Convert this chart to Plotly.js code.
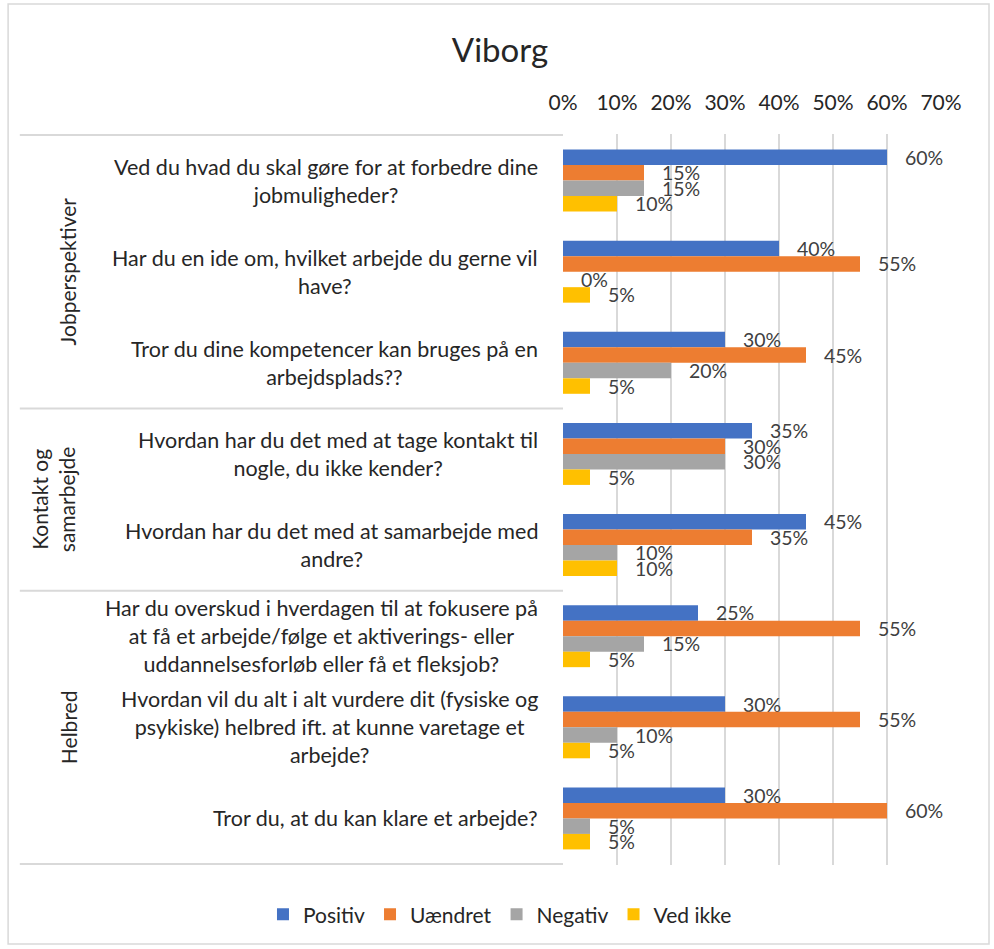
<!DOCTYPE html>
<html>
<head>
<meta charset="utf-8">
<script src="https://cdn.plot.ly/plotly-3.0.1.min.js"></script>
<style>html,body{margin:0;padding:0;background:#fff;}#chart{width:994px;height:949px;}</style>
</head>
<body>
<div id="chart"></div>
<script>
const questions = [
  "Ved du hvad du skal gøre for at forbedre dine<br>jobmuligheder?",
  "Har du en ide om, hvilket arbejde du gerne vil<br>have?",
  "Tror du dine kompetencer kan bruges på en<br>arbejdsplads??",
  "Hvordan har du det med at tage kontakt til<br>nogle, du ikke kender?",
  "Hvordan har du det med at samarbejde med<br>andre?",
  "Har du overskud i hverdagen til at fokusere på<br>at få et arbejde/følge et aktiverings- eller<br>uddannelsesforløb eller få et fleksjob?",
  "Hvordan vil du alt i alt vurdere dit (fysiske og<br>psykiske) helbred ift. at kunne varetage et<br>arbejde?",
  "Tror du, at du kan klare et arbejde?"
];
const groups = ["Jobperspektiver", "Kontakt og<br>samarbejde", "Helbred"];
const groupSizes = [3, 2, 3];
const seriesNames = ["Positiv", "Uændret", "Negativ", "Ved ikke"];
const positiv = [0.60, 0.40, 0.30, 0.35, 0.45, 0.25, 0.30, 0.30];
const uaendret = [0.15, 0.55, 0.45, 0.30, 0.35, 0.55, 0.55, 0.60];
const negativ = [0.15, 0.00, 0.20, 0.30, 0.10, 0.15, 0.10, 0.05];
const vedIkke = [0.10, 0.05, 0.05, 0.05, 0.10, 0.05, 0.05, 0.05];
const xTicks = [0, 0.1, 0.2, 0.3, 0.4, 0.5, 0.6, 0.7];

const colors = ["#4472C4", "#ED7D31", "#A5A5A5", "#FFC000"];
const FONT = "Lato, 'Liberation Sans', sans-serif";
const TXT = "#262626";
const allSeries = [positiv, uaendret, negativ, vedIkke];

const traces = allSeries.map((vals, i) => ({
  type: "bar",
  orientation: "h",
  name: seriesNames[i],
  y: questions,
  x: vals,
  marker: {color: colors[i]},
  text: vals.map(v => "\u00a0\u00a0\u00a0" + Math.round(v * 100) + "%"),
  textposition: "outside",
  constraintext: "none",
  cliponaxis: false,
  textfont: {family: FONT, size: 19.5, color: "#404040"},
  hoverinfo: "x+y"
}));

const annotations = [];
questions.forEach(q => {
  annotations.push({
    xref: "paper", yref: "y", x: -0.06, y: q,
    xanchor: "right", yanchor: "middle", align: "center",
    text: q, showarrow: false,
    font: {family: FONT, size: 21.5, color: TXT}
  });
});
let start = 0;
const sepShapes = [];
const lineStyle = {color: "#d9d9d9", width: 2};
sepShapes.push({type: "line", xref: "paper", yref: "y", x0: -1.437, x1: 0, y0: -0.5, y1: -0.5, line: lineStyle});
groups.forEach((g, gi) => {
  const end = start + groupSizes[gi] - 1;
  annotations.push({
    xref: "paper", yref: "y",
    x: gi === 1 ? -1.35 : -1.31, y: (start + end) / 2,
    xanchor: "center", yanchor: "middle", align: "center",
    textangle: -90, text: g, showarrow: false,
    font: {family: FONT, size: 21, color: TXT}
  });
  sepShapes.push({type: "line", xref: "paper", yref: "y", x0: -1.437, x1: 0, y0: end + 0.5, y1: end + 0.5, line: lineStyle});
  start = end + 1;
});
// outer chart border
sepShapes.push({type: "rect", xref: "paper", yref: "paper", x0: -1.468, x1: 1.127, y0: -0.108, y1: 1.178, line: {color: "#d9d9d9", width: 1.5}, layer: "below"});

const layout = {
  width: 994, height: 949,
  margin: {l: 563, r: 53, t: 134, b: 84, autoexpand: false},
  paper_bgcolor: "#ffffff", plot_bgcolor: "#ffffff",
  font: {family: FONT, size: 21, color: TXT},
  title: {text: "Viborg", x: 0.503, xref: "container", y: 0.947, yref: "container", yanchor: "middle",
          font: {family: FONT, size: 33, color: TXT}},
  barmode: "group", bargap: 0.32, bargroupgap: 0,
  xaxis: {side: "top", range: [0, 0.7], tickvals: xTicks, tickformat: ".0%",
          showgrid: true, gridcolor: "#d9d9d9", gridwidth: 1.5, zeroline: false,
          showline: false, ticks: "outside", ticklen: 15, tickcolor: "rgba(0,0,0,0)",
          tickfont: {family: FONT, size: 21, color: TXT}, fixedrange: true},
  yaxis: {type: "category", autorange: "reversed", showticklabels: false, showgrid: false,
          zeroline: false, showline: false, ticks: "", fixedrange: true},
  showlegend: true,
  legend: {orientation: "h", x: -0.1667, xref: "paper", xanchor: "center", y: -0.068, yref: "paper", yanchor: "middle",
           font: {family: FONT, size: 21, color: TXT}, traceorder: "normal", itemwidth: 30},
  annotations: annotations,
  shapes: sepShapes
};

Plotly.newPlot("chart", traces, layout, {displayModeBar: false, staticPlot: true});
</script>
</body>
</html>
